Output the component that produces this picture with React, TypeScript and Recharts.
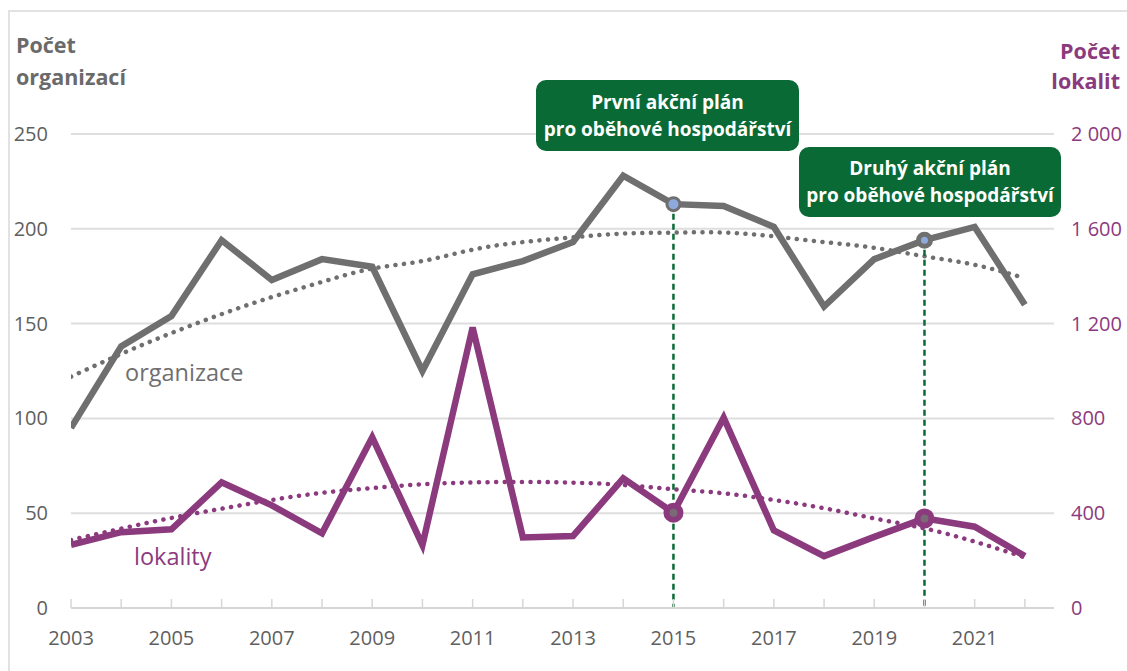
import React from 'react'
import {
  ComposedChart, Line, XAxis, YAxis, CartesianGrid, ReferenceLine, ReferenceDot,
} from 'recharts'

// roky a hodnoty
const years = [2003, 2004, 2005, 2006, 2007, 2008, 2009, 2010, 2011, 2012, 2013, 2014, 2015, 2016, 2017, 2018, 2019, 2020, 2021, 2022]
const organizace = [95, 138, 154, 194, 173, 184, 180, 125, 176, 183, 193, 228, 213, 212, 201, 159, 184, 194, 201, 160]
const lokality = [266, 320, 332, 530, 433, 315, 720, 266, 1184, 298, 304, 547, 402, 803, 327, 219, 300, 378, 343, 219]
// polynomické trendy (odečteno z tečkovaných křivek)
const organizaceTrend = [122, 134, 145, 155, 164, 172, 179, 183, 189, 193, 195.5, 197.5, 198, 198, 196, 193, 190, 185.5, 181, 174]
const lokalityTrend = [287, 335, 380, 419, 456, 486, 506, 522, 530, 532, 529, 519, 501, 484, 456, 421, 378, 336, 280, 214]

const leftTicks = [0, 50, 100, 150, 200, 250]
const rightTicks = [0, 400, 800, 1200, 1600, 2000]
const labelYears = [2003, 2005, 2007, 2009, 2011, 2013, 2015, 2017, 2019, 2021]
const milestones = [2015, 2020]

const GRAY = '#6f6f6f'
const PURPLE = '#8c3a7e'
const GREEN = '#0a6a35'
const FONT = '"Open Sans", "Noto Sans", sans-serif'

const data = years.map((year, i) => ({
  year,
  organizace: organizace[i],
  lokality: lokality[i],
  organizaceTrend: organizaceTrend[i],
  lokalityTrend: lokalityTrend[i],
}))

const fmt = (v: number) =>
  v >= 1000 ? `${Math.floor(v / 1000)} ${String(v % 1000).padStart(3, '0')}` : String(v)

const LeftTick = (props: any) => {
  const { x, y, payload } = props
  return (
    <text x={x - 23} y={y} dy={7} textAnchor="end" fill="#5f5f5f" fontSize={20} fontFamily={FONT}>
      {payload.value}
    </text>
  )
}

const RightTick = (props: any) => {
  const { x, y, payload } = props
  return (
    <text x={x + 17} y={y} dy={7} textAnchor="start" fill={PURPLE} fontSize={20} fontFamily={FONT}>
      {fmt(payload.value)}
    </text>
  )
}

const YearTick = (props: any) => {
  const { x, y, payload } = props
  return (
    <g>
      <line x1={x} x2={x} y1={y} y2={y - 9} stroke="#d6d6d6" strokeWidth={1.5} />
      {labelYears.includes(payload.value) && (
        <text x={x} y={y + 37} textAnchor="middle" fill="#5f5f5f" fontSize={20} fontFamily={FONT}>
          {payload.value}
        </text>
      )}
    </g>
  )
}

const boxStyle: React.CSSProperties = {
  position: 'absolute',
  background: GREEN,
  color: '#fff',
  borderRadius: 10,
  fontFamily: FONT,
  fontWeight: 700,
  fontSize: 19,
  lineHeight: '27px',
  textAlign: 'center',
  display: 'flex',
  alignItems: 'center',
  justifyContent: 'center',
  whiteSpace: 'nowrap',
}

export default function App() {
  const val = (arr: number[], y: number) => arr[years.indexOf(y)]
  return (
    <div style={{ position: 'fixed', left: 0, top: 0, width: 1127, height: 671, overflow: 'hidden', background: '#fff' }}>
      <div style={{ position: 'absolute', left: 8, top: 10, width: 1300, height: 800, border: '2px solid #e2e2e2' }} />
      <ComposedChart
        width={1127}
        height={671}
        data={data}
        margin={{ top: 134, right: 3, bottom: 23, left: 11 }}
        style={{ position: 'absolute', left: 0, top: 0 }}
      >
        <CartesianGrid yAxisId="left" vertical={false} stroke="#dedede" strokeWidth={2} />
        <XAxis
          dataKey="year"
          type="number"
          domain={[2003, 2022.58]}
          ticks={years}
          allowDataOverflow
          height={40}
          axisLine={{ stroke: '#d6d6d6', strokeWidth: 2 }}
          tickLine={false}
          tickSize={0}
          tickMargin={0}
          interval={0}
          tick={<YearTick />}
        />
        <YAxis
          yAxisId="left"
          domain={[0, 250]}
          ticks={leftTicks}
          width={60}
          axisLine={false}
          tickLine={false}
          tickSize={0}
          tickMargin={0}
          tick={<LeftTick />}
        />
        <YAxis
          yAxisId="right"
          orientation="right"
          domain={[0, 2000]}
          ticks={rightTicks}
          width={70}
          axisLine={false}
          tickLine={false}
          tickSize={0}
          tickMargin={0}
          tick={<RightTick />}
        />
        <Line yAxisId="left" dataKey="organizace" stroke={GRAY} strokeWidth={6.5} dot={false} isAnimationActive={false} strokeLinejoin="miter" />
        <Line yAxisId="right" dataKey="lokality" stroke={PURPLE} strokeWidth={6.5} dot={false} isAnimationActive={false} strokeLinejoin="miter" />
        <Line yAxisId="left" type="natural" dataKey="organizaceTrend" stroke={GRAY} strokeWidth={4.5} strokeDasharray="0.1 8.5" strokeLinecap="round" dot={false} isAnimationActive={false} />
        <Line yAxisId="right" type="natural" dataKey="lokalityTrend" stroke={PURPLE} strokeWidth={4.5} strokeDasharray="0.1 8.5" strokeLinecap="round" dot={false} isAnimationActive={false} />
        {milestones.map((m) => (
          <ReferenceDot key={'p' + m} yAxisId="right" x={m} y={val(lokality, m)} r={7} fill="#7a6a76" stroke={PURPLE} strokeWidth={6} ifOverflow="visible" />
        ))}
        {milestones.map((m) => (
          <ReferenceLine
            key={'l' + m}
            yAxisId="left"
            segment={[{ x: m, y: val(organizace, m) - 5 }, { x: m, y: 0 }]}
            stroke={GREEN}
            strokeWidth={2.5}
            strokeDasharray="6 4"
            ifOverflow="visible"
          />
        ))}
        <ReferenceDot yAxisId="left" x={2015} y={val(organizace, 2015)} r={6.5} fill="#8eaadc" stroke={GRAY} strokeWidth={3} ifOverflow="visible" />
        <ReferenceDot yAxisId="left" x={2020} y={val(organizace, 2020)} r={6} fill="#8eaadc" stroke={GRAY} strokeWidth={5} ifOverflow="visible" />
      </ComposedChart>

      <div style={{ position: 'absolute', left: 16, top: 29, fontFamily: FONT, fontWeight: 700, fontSize: 21.5, lineHeight: '32px', color: '#6a6a6a' }}>
        Počet<br />organizací
      </div>
      <div style={{ position: 'absolute', right: 7, top: 36, fontFamily: FONT, fontWeight: 700, fontSize: 21.5, lineHeight: '30px', color: PURPLE, textAlign: 'right' }}>
        Počet<br />lokalit
      </div>
      <div style={{ position: 'absolute', left: 125, top: 356, fontFamily: FONT, fontSize: 23.5, color: GRAY }}>organizace</div>
      <div style={{ position: 'absolute', left: 134, top: 540, fontFamily: FONT, fontSize: 23.5, color: PURPLE }}>lokality</div>

      <div style={{ ...boxStyle, left: 536, top: 80, width: 263, height: 71 }}>
        První akční plán<br />pro oběhové hospodářství
      </div>
      <div style={{ ...boxStyle, left: 799, top: 147, width: 262, height: 70 }}>
        Druhý akční plán<br />pro oběhové hospodářství
      </div>
    </div>
  )
}
